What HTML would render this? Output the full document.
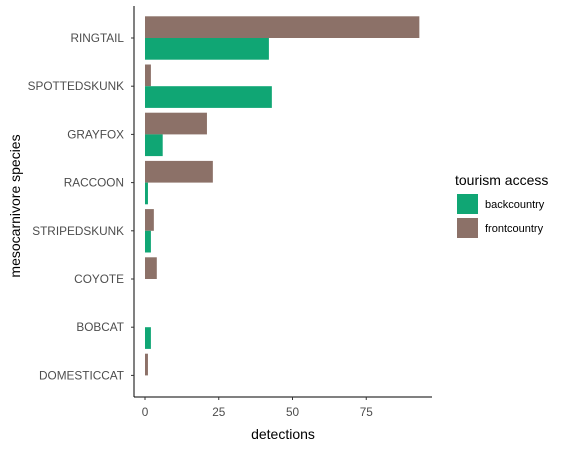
<!DOCTYPE html>
<html><head><meta charset="utf-8"><style>
body{margin:0;background:#fff;font-family:"Liberation Sans",Arial,sans-serif}
</style></head><body>
<svg id="c" width="571" height="448" xmlns="http://www.w3.org/2000/svg">
<line x1="134" y1="6" x2="134" y2="397" stroke="#000" stroke-width="1"/>
<line x1="134" y1="397" x2="432" y2="397" stroke="#000" stroke-width="1"/>
<g id="bars"></g>
<g id="axes" font-size="11.8" fill="#4d4d4d"></g>
<text x="283" y="439" font-size="14" text-anchor="middle" fill="#000">detections</text>
<text transform="translate(20,206) rotate(-90)" font-size="14" text-anchor="middle" fill="#000">mesocarnivore species</text>
<g>
<text x="455" y="185" font-size="14" fill="#000">tourism access</text>
<rect x="457" y="194" width="21" height="20" fill="#10a674"/>
<text x="485" y="208" font-size="11" fill="#000">backcountry</text>
<rect x="457" y="218" width="21" height="20" fill="#8c7168"/>
<text x="485" y="232" font-size="11" fill="#000">frontcountry</text>
</g>
</svg>
<script>
const categories=["RINGTAIL","SPOTTEDSKUNK","GRAYFOX","RACCOON","STRIPEDSKUNK","COYOTE","BOBCAT","DOMESTICCAT"];
const backcountry=[42,43,6,1,2,0,2,0];
const frontcountry=[93,2,21,23,3,4,0,1];
const xTicks=[0,25,50,75];
const NS="http://www.w3.org/2000/svg";
const x=v=>145+v*2.95;
const y=i=>38+i*48.2;
const bars=document.getElementById('bars'),axes=document.getElementById('axes');
function rect(x0,y0,w,h,fill,name){
 const r=document.createElementNS(NS,'rect');
 r.setAttribute('x',x0);r.setAttribute('y',y0);r.setAttribute('width',w);r.setAttribute('height',h);r.setAttribute('fill',fill);
 
 
 bars.appendChild(r);
}
categories.forEach((c,i)=>{
 const cy=y(i);
 if(frontcountry[i]>0) rect(x(0),cy-21.7,x(frontcountry[i])-x(0),21.7,'#8c7168','bar-frontcountry-'+c.toLowerCase());
 if(backcountry[i]>0) rect(x(0),cy,x(backcountry[i])-x(0),21.7,'#10a674','bar-backcountry-'+c.toLowerCase());
 const t=document.createElementNS(NS,'text');
 t.setAttribute('x',124);t.setAttribute('y',cy+4);t.setAttribute('text-anchor','end');t.textContent=c;
 
 
 axes.appendChild(t);
 const l=document.createElementNS(NS,'line');
 l.setAttribute('x1',131);l.setAttribute('x2',134);l.setAttribute('y1',cy);l.setAttribute('y2',cy);l.setAttribute('stroke','#333');
 
 
 axes.appendChild(l);
});
xTicks.forEach(v=>{
 const t=document.createElementNS(NS,'text');
 t.setAttribute('x',x(v));t.setAttribute('y',416);t.setAttribute('text-anchor','middle');t.textContent=v;
 
 
 axes.appendChild(t);
 const l=document.createElementNS(NS,'line');
 l.setAttribute('x1',x(v));l.setAttribute('x2',x(v));l.setAttribute('y1',397);l.setAttribute('y2',400);l.setAttribute('stroke','#333');
 
 
 axes.appendChild(l);
});
</script>
</body></html>
